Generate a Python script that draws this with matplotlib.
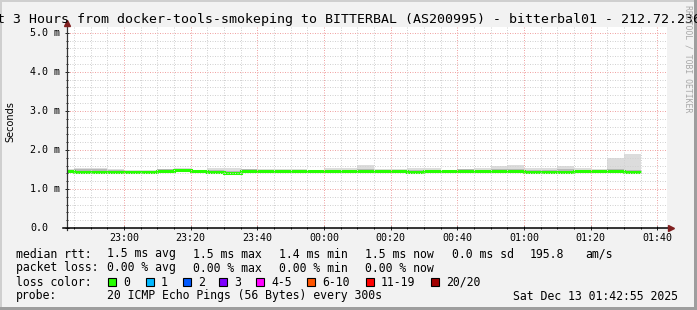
# -*- coding:utf-8 -*-
import matplotlib
matplotlib.use('Agg')
import matplotlib.pyplot as plt
import matplotlib.dates as mdates
from matplotlib.patches import Rectangle
import pandas as pd
import numpy as np

W, H = 697, 310
MONO = 'DejaVu Sans Mono'

# 5-minute bins, start times (the first one is cut by the left edge)
bin_start = pd.date_range('2025-12-12 22:40', periods=35, freq='5min')
t_from = pd.Timestamp('2025-12-12 22:42:55')
t_to = pd.Timestamp('2025-12-13 01:42:55')

# median rtt per bin (ms)
median = [1.45, 1.44, 1.44, 1.44, 1.44, 1.44, 1.47, 1.48, 1.46, 1.44,
          1.42, 1.47, 1.47, 1.45, 1.45, 1.45, 1.45, 1.45, 1.45, 1.46,
          1.46, 1.43, 1.45, 1.46, 1.45, 1.45, 1.46, 1.46, 1.44, 1.44,
          1.44, 1.47, 1.46, 1.45, 1.44]
# smoke: min / max ping per bin (ms)
smoke_lo = [1.42, 1.41, 1.41, 1.42, 1.42, 1.42, 1.43, 1.44, 1.42, 1.41,
            1.39, 1.43, 1.43, 1.42, 1.42, 1.42, 1.42, 1.42, 1.42, 1.43,
            1.42, 1.38, 1.42, 1.42, 1.42, 1.42, 1.43, 1.43, 1.41, 1.41,
            1.41, 1.43, 1.42, 1.42, 1.41]
smoke_hi = [1.51, 1.54, 1.54, 1.50, 1.49, 1.49, 1.52, 1.54, 1.49, 1.53,
            1.54, 1.51, 1.50, 1.51, 1.50, 1.49, 1.54, 1.54, 1.61, 1.50,
            1.50, 1.53, 1.54, 1.49, 1.51, 1.54, 1.59, 1.61, 1.54, 1.55,
            1.59, 1.53, 1.50, 1.79, 1.90]
# inner (darker) part of the smoke
inner_lo = [1.43, 1.42, 1.42, 1.43, 1.43, 1.43, 1.45, 1.46, 1.44, 1.42,
            1.40, 1.45, 1.45, 1.43, 1.43, 1.43, 1.43, 1.43, 1.43, 1.44,
            1.44, 1.40, 1.43, 1.44, 1.43, 1.43, 1.44, 1.44, 1.42, 1.42,
            1.42, 1.45, 1.44, 1.43, 1.42]
inner_hi = [1.49, 1.50, 1.50, 1.48, 1.47, 1.47, 1.50, 1.51, 1.48, 1.48,
            1.47, 1.50, 1.49, 1.48, 1.48, 1.48, 1.48, 1.49, 1.50, 1.48,
            1.48, 1.48, 1.49, 1.48, 1.50, 1.49, 1.50, 1.51, 1.48, 1.49,
            1.51, 1.49, 1.48, 1.50, 1.49]

y_ticks = [0, 1, 2, 3, 4, 5]
y_labels = ['0.0', '1.0 m', '2.0 m', '3.0 m', '4.0 m', '5.0 m']

loss_labels = ['0', '1', '2', '3', '4-5', '6-10', '11-19', '20/20']
loss_colors = ['#26ff00', '#00b8ff', '#0059ff', '#7e00ff', '#ff00ff',
               '#ff5500', '#ff0000', '#a10000']
loss_x = [108, 146, 183, 219, 256, 307, 366, 431]

stat_rows = [
    ('median rtt:', [(107, '1.5 ms avg'), (193, '1.5 ms max'), (279, '1.4 ms min'),
                     (365, '1.5 ms now'), (452, '0.0 ms sd'), (530, '195.8'), (585, 'am/s')]),
    ('packet loss:', [(107, '0.00 % avg'), (193, '0.00 % max'), (279, '0.00 % min'),
                      (365, '0.00 % now')]),
]


def fx(x):
    return x / W


def fy(y):
    return 1 - y / H


fig = plt.figure(figsize=(W / 100, H / 100), dpi=100, facecolor='#f2f2f2')
# 3d-ish border like rrdtool
fig.add_artist(Rectangle((0, fy(2)), 1, 2 / H, transform=fig.transFigure, color='#cfcfcf', lw=0))
fig.add_artist(Rectangle((0, 0), 2 / W, 1, transform=fig.transFigure, color='#cfcfcf', lw=0))
fig.add_artist(Rectangle((0, 0), 1, 3 / H, transform=fig.transFigure, color='#9e9e9e', lw=0))
fig.add_artist(Rectangle((1 - 3 / W, 0), 3 / W, 1, transform=fig.transFigure, color='#9e9e9e', lw=0))

ax = fig.add_axes([fx(67), fy(228), (667 - 67) / W, (228 - 27) / H])
ax.set_facecolor('white')

x0 = mdates.date2num(bin_start)
bw = 5 / 1440.0
edges = np.append(x0, x0[-1] + bw)
lo = np.array(smoke_lo)
hi = np.array(smoke_hi)
ilo = np.array(inner_lo)
ihi = np.array(inner_hi)

ax.bar(x0, hi - lo, bottom=lo, width=bw, align='edge', color='#dcdcdc', lw=0, zorder=1)
ax.bar(x0, ihi - ilo, bottom=ilo, width=bw, align='edge', color='#b8b8b8', lw=0, zorder=1)
ax.stairs(median, edges, baseline=None, color='#26ff00', lw=2.2, zorder=2)

ax.set_xlim(mdates.date2num(t_from), mdates.date2num(t_to))
ax.set_ylim(0, 5.15)

ax.xaxis.set_major_locator(mdates.MinuteLocator(byminute=[0, 20, 40]))
ax.xaxis.set_minor_locator(mdates.MinuteLocator(byminute=range(0, 60, 5)))
ax.xaxis.set_major_formatter(mdates.DateFormatter('%H:%M'))
ax.set_yticks(y_ticks)
ax.set_yticks(np.arange(0, 5.01, 0.2), minor=True)
ax.set_yticklabels([])

ax.grid(which='minor', color='#d2d2d2', linestyle=(0, (1, 1.5)), lw=0.72, zorder=3)
ax.grid(which='major', color='#f0a4a4', linestyle=(0, (1, 1.5)), lw=0.72, zorder=3)
ax.set_axisbelow(False)

for s in ['top', 'right', 'left', 'bottom']:
    ax.spines[s].set_visible(False)

ax.tick_params(axis='x', which='major', length=3, width=0.7, direction='inout', color='#1f1f1f',
               labelsize=7.2, pad=2)
ax.tick_params(axis='x', which='minor', length=2, width=0.7, direction='inout', color='#1f1f1f')
ax.tick_params(axis='y', which='major', length=3, width=0.7, direction='inout', color='#1f1f1f')
ax.tick_params(axis='y', which='minor', length=1.5, width=0.7, direction='inout', color='#1f1f1f')
for lab in ax.get_xticklabels():
    lab.set_family(MONO)

# y labels, left aligned like rrdtool output
for v, lab in zip(y_ticks, y_labels):
    ax.text(fx(30 - 67) * W / 600, v, lab, transform=ax.get_yaxis_transform(),
            ha='left', va='center', fontsize=7.2, family=MONO)

# axes with arrows
ax.plot([0, 0], [-0.01, 1.02], transform=ax.transAxes, color='#333333', lw=0.9, clip_on=False, zorder=4)
ax.plot([-0.007, 1.004], [0, 0], transform=ax.transAxes, color='#000000', lw=1.1, clip_on=False, zorder=4)
ax.plot([0], [1.02], marker='^', ms=4.5, color='#801f1f', transform=ax.transAxes, clip_on=False, zorder=5)
ax.plot([1.006], [0], marker='>', ms=4.5, color='#801f1f', transform=ax.transAxes, clip_on=False, zorder=5)

fig.text(-26.8 / W, fy(19),
         'Last 3 Hours from docker-tools-smokeping to BITTERBAL (AS200995) - bitterbal01 - 212.72.236',
         ha='left', va='center', fontsize=9.5, family=MONO)
fig.text(fx(10), fy(122), 'Seconds', rotation=90, ha='center', va='center', fontsize=7)
fig.text(fx(688), fy(59), 'RRDTOOL / TOBI OETIKER', rotation=270, ha='center', va='center',
         fontsize=5.9, family=MONO, color='#a8a8a8')

# legend block
row_y = [254, 268, 282, 296]
for (head, items), y in zip(stat_rows, row_y):
    fig.text(fx(16), fy(y), head, ha='left', va='center', fontsize=8.3, family=MONO)
    for x, s in items:
        fig.text(fx(x), fy(y), s, ha='left', va='center', fontsize=8.3, family=MONO)

fig.text(fx(16), fy(row_y[2]), 'loss color:', ha='left', va='center', fontsize=8.3, family=MONO)
for x, lab, c in zip(loss_x, loss_labels, loss_colors):
    fig.add_artist(Rectangle((fx(x), fy(row_y[2] + 4)), 8 / W, 8 / H, transform=fig.transFigure,
                             facecolor=c, edgecolor='black', lw=0.8))
    fig.text(fx(x + 15), fy(row_y[2]), lab, ha='left', va='center', fontsize=8.3, family=MONO)

fig.text(fx(16), fy(row_y[3]), 'probe:', ha='left', va='center', fontsize=8.3, family=MONO)
fig.text(fx(107), fy(row_y[3]), '20 ICMP Echo Pings (56 Bytes) every 300s', ha='left', va='center',
         fontsize=8.3, family=MONO)
fig.text(fx(513), fy(row_y[3]), 'Sat Dec 13 01:42:55 2025', ha='left', va='center',
         fontsize=8.3, family=MONO)

fig.savefig('out.png', dpi=100, facecolor=fig.get_facecolor())
